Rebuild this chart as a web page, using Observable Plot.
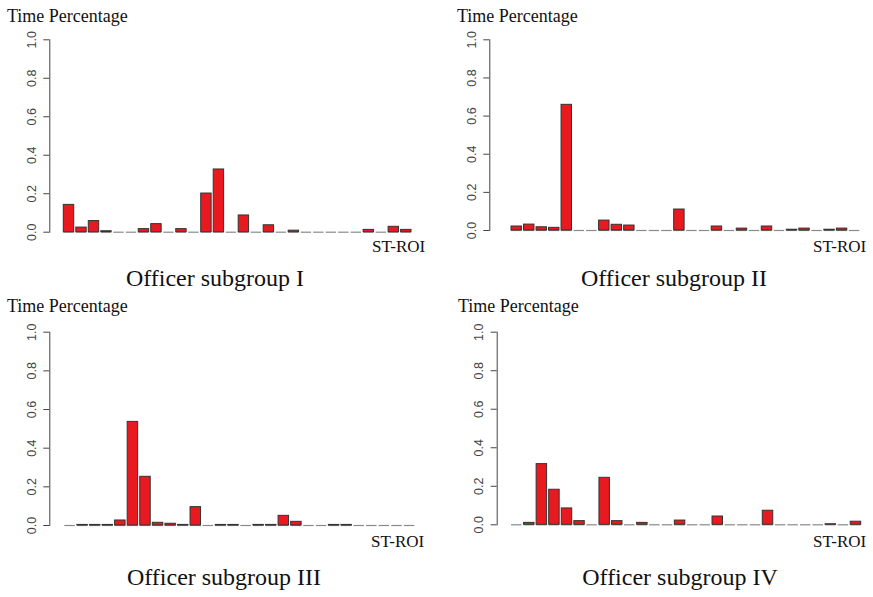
<!DOCTYPE html>
<html><head><meta charset="utf-8">
<script src="https://cdn.jsdelivr.net/npm/d3@7"></script>
<script src="https://cdn.jsdelivr.net/npm/@observablehq/plot@0.6"></script>
<style>
html,body{margin:0;padding:0;background:#fff;}
#chart{position:relative;width:873px;height:597px;overflow:hidden;background:#fff;}
.panel{position:absolute;}
#labels{position:absolute;left:0;top:0;pointer-events:none;}
</style></head><body><div id="chart"></div>
<script>
// ---------- data ----------
const roiIndex = d3.range(1, 29);
const subgroupI   = [0.142, 0.024, 0.058, 0.005, 0, 0, 0.016, 0.042, 0, 0.016, 0, 0.201, 0.326, 0, 0.087, 0, 0.036, 0, 0.008, 0, 0, 0, 0, 0, 0.012, 0, 0.028, 0.012];
const subgroupII  = [0.021, 0.031, 0.017, 0.014, 0.659, 0, 0, 0.052, 0.030, 0.026, 0, 0, 0, 0.110, 0, 0, 0.021, 0, 0.010, 0, 0.021, 0, 0.004, 0.010, 0, 0.004, 0.010, 0];
const subgroupIII = [0, 0.003, 0.003, 0.003, 0.026, 0.536, 0.252, 0.014, 0.009, 0.003, 0.095, 0, 0.003, 0.003, 0, 0.003, 0.003, 0.050, 0.019, 0, 0, 0.003, 0.003, 0, 0, 0, 0, 0];
const subgroupIV  = [0, 0.010, 0.315, 0.182, 0.085, 0.019, 0, 0.244, 0.019, 0, 0.010, 0, 0, 0.022, 0, 0, 0.043, 0, 0, 0, 0.073, 0, 0, 0, 0, 0.003, 0, 0.016];
const yTicks = [0, 0.2, 0.4, 0.6, 0.8, 1.0];
const yLabel = "Time Percentage";
const xLabel = "ST-ROI";
const panelTitles = ["Officer subgroup I", "Officer subgroup II", "Officer subgroup III", "Officer subgroup IV"];
const seriesList = [subgroupI, subgroupII, subgroupIII, subgroupIV];

// ---------- layout (page pixels) ----------
const layouts = [
  {left:0,   top:0,   w:436, h:293, axisX:49.3,  yTop:39.3,  yBase:231.7, barL:63.3, barR:411,   titleX:215, titleY:286, yLabX:7,   yLabY:22,  xLabX:372, xLabY:252},
  {left:437, top:0,   w:436, h:293, axisX:489.3, yTop:39.3,  yBase:230,   barL:511,  barR:859.3, titleX:674, titleY:286, yLabX:457, yLabY:22,  xLabX:813, xLabY:252},
  {left:0,   top:293, w:436, h:293, axisX:49.3,  yTop:331.7, yBase:525,   barL:64.3, barR:414.3, titleX:224, titleY:585, yLabX:7,   yLabY:312, xLabX:371, xLabY:547},
  {left:437, top:293, w:436, h:293, axisX:496.7, yTop:331.7, yBase:524.3, barL:511,  barR:860.7, titleX:680, titleY:585, yLabX:458, yLabY:312, xLabX:813, xLabY:547}
];

const chart = document.getElementById("chart");
const pInner = 1/6;

seriesList.forEach((series, k) => {
  const L = layouts[k];
  const data = roiIndex.map((roi, i) => ({roi, value: series[i]}));
  const n = roiIndex.length;
  const step = (L.barR - L.barL) / (n - pInner);
  const po = (L.barL - L.axisX) / step;
  const r1 = L.barR + po * step;
  const mL = L.axisX - L.left;
  const mR = (L.left + L.w) - r1;
  const mT = L.yTop - L.top;
  const mB = L.h - (L.yBase - L.top);
  const plot = Plot.plot({
    width: L.w, height: L.h,
    marginLeft: mL, marginRight: mR, marginTop: mT, marginBottom: mB,
    style: {color: "#444", fontFamily: "'Liberation Sans', Arial, sans-serif", fontSize: "12.5px", background: "transparent"},
    x: {type: "band", domain: roiIndex, paddingInner: pInner, paddingOuter: po, align: 0.5, round: false, axis: null},
    y: {domain: [0, 1], axis: null},
    marks: [
      Plot.frame({anchor: "left", stroke: "#444"}),
      Plot.axisY({ticks: yTicks, tickFormat: d3.format(".1f"), tickRotate: -90, tickSize: 6, tickPadding: 8, label: null}),
      Plot.tickY(data, {x: "roi", y: () => 0, stroke: "#8a8a8a", strokeWidth: 1.2}),
      Plot.barY(data, {x: "roi", y: "value", fill: "#e8191f", stroke: "#333", strokeWidth: 1})
    ]
  });
  const div = document.createElement("div");
  div.className = "panel";
  div.style.left = L.left + "px";
  div.style.top = L.top + "px";
  div.appendChild(plot);
  chart.appendChild(div);
});

// text overlay
const svg = d3.select(chart).append("svg").attr("id", "labels")
  .attr("width", 873).attr("height", 597)
  .style("font-family", "'Liberation Serif', 'Times New Roman', serif")
  .style("fill", "#111");
layouts.forEach((L, k) => {
  svg.append("text").attr("x", L.yLabX).attr("y", L.yLabY).attr("font-size", 18).text(yLabel);
  svg.append("text").attr("x", L.xLabX).attr("y", L.xLabY).attr("font-size", 17).text(xLabel);
  svg.append("text").attr("x", L.titleX).attr("y", L.titleY).attr("font-size", 24).attr("text-anchor", "middle").text(panelTitles[k]);
});
</script>
</body></html>
